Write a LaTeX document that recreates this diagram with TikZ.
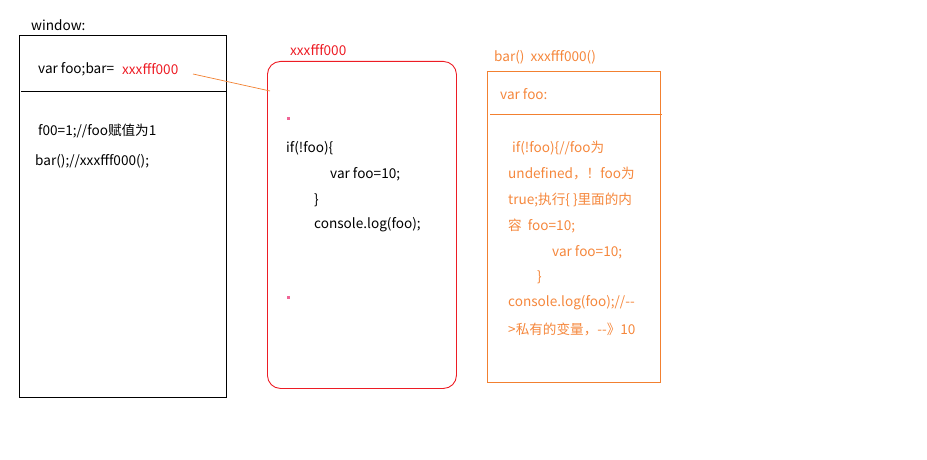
\documentclass[tikz,border=0pt]{standalone}
\usepackage{fontspec}
\setmainfont{Noto Sans CJK SC}
\definecolor{cred}{RGB}{237,28,36}
\definecolor{corange}{RGB}{242,128,48}
\definecolor{ctext}{RGB}{245,135,60}
\definecolor{cpink}{RGB}{240,100,150}
\begin{document}
\begin{tikzpicture}[x=1pt,y=-1pt,
  txt/.style={anchor=west,inner sep=0pt,font=\fontsize{13.6}{15}\selectfont},
  otxt/.style={txt,text=ctext}]
\useasboundingbox (0,0) rectangle (927,460);
% window box
\node[draw=black,line width=0.8pt,minimum width=207pt,minimum height=362pt,inner sep=0pt,anchor=north west] (win) at (19,35) {};
\draw[line width=0.8pt] (21,91.5) coordinate (wl) -- (226,91.5) coordinate (wr);
\node[txt] (wlabel) at (31,25) {window:};
\node[txt] (w1) at (38,69) {var foo;bar=};
\node[txt,text=cred] (w2) at (122,69) {xxxfff000};
\node[txt] (w3) at (38,131) {f00=1;//foo赋值为1};
\node[txt] (w4) at (35,161) {bar();//xxxfff000();};
% red box
\node[draw=cred,line width=0.9pt,rounded corners=13pt,minimum width=189pt,minimum height=327pt,inner sep=0pt,anchor=north west] (fn) at (267,61) {};
\node[txt,text=cred] (fnlabel) at (290,50) {xxxfff000};
\node[fill=cpink,minimum size=3pt,inner sep=0pt] (dot1) at (288,118) {};
\node[fill=cpink,minimum size=3pt,inner sep=0pt] (dot2) at (288,297) {};
\node[txt] (f1) at (286,148) {if(!foo)\{};
\node[txt] (f2) at (330,174) {var foo=10;};
\node[txt] (f3) at (314,200) {\}};
\node[txt] (f4) at (314,225) {console.log(foo);};
% connector
\coordinate (cstart) at (193,74);
\coordinate (cend) at (270,91);
\draw[corange,line width=0.7pt] (cstart) -- (cend);
% orange box
\node[draw=corange,line width=0.8pt,minimum width=173pt,minimum height=311pt,inner sep=0pt,anchor=north west] (bar) at (487,71) {};
\draw[corange,line width=0.8pt] (490,114) coordinate (bl) -- (662,114) coordinate (br);
\node[otxt] (blabel) at (494,57) {bar()\ \ xxxfff000()};
\node[otxt] (b0) at (500,94) {var foo:};
\node[otxt] (b1) at (512,148) {if(!foo)\{//foo为};
\node[otxt] (b2) at (508,174) {undefined，！foo为};
\node[otxt] (b3) at (508,200) {true;执行\{ \}里面的内};
\node[otxt] (b4) at (508,226) {容\ \ foo=10;};
\node[otxt] (b5) at (552,252) {var foo=10;};
\node[otxt] (b6) at (537,277) {\}};
\node[otxt] (b7) at (508,303) {console.log(foo);//-{}-};
\node[otxt] (b8) at (508,329) {>私有的变量，-{}-》10};
\end{tikzpicture}
\end{document}
